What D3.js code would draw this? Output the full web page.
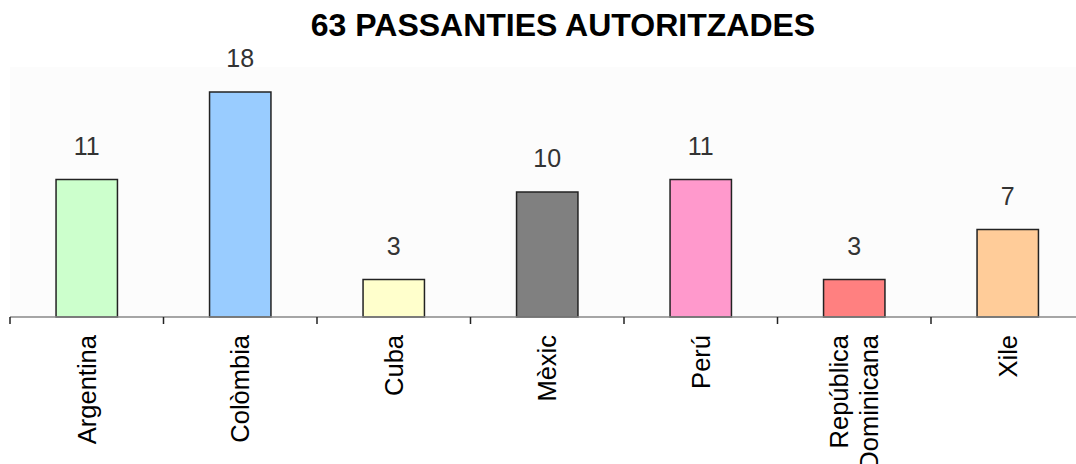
<!DOCTYPE html>
<html>
<head>
<meta charset="utf-8">
<script src="https://cdn.jsdelivr.net/npm/d3@7"></script>
<style>
  body { margin: 0; background: #fff; }
  text { font-family: "Liberation Sans", Arial, sans-serif; }
</style>
</head>
<body>
<script>
const countries = ["Argentina", "Colòmbia", "Cuba", "Mèxic", "Perú", "República Dominicana", "Xile"];
const values = [11, 18, 3, 10, 11, 3, 7];
const colors = ["#ccffcc", "#99ccff", "#ffffcc", "#808080", "#ff99cc", "#ff8080", "#ffcc99"];
const title = "63 PASSANTIES AUTORITZADES";

const width = 1076, height = 464;
const plotLeft = 10, plotRight = 1084.5, plotTop = 67, plotBottom = 317;

const svg = d3.select("body").append("svg")
  .attr("width", width).attr("height", height);

svg.append("rect")
  .attr("x", plotLeft).attr("y", plotTop)
  .attr("width", width - plotLeft).attr("height", plotBottom - plotTop)
  .attr("fill", "#fcfcfc");

const x = d3.scaleBand().domain(countries).range([plotLeft, plotRight]).padding(0);
const y = d3.scaleLinear().domain([0, 20]).range([plotBottom, plotTop]);
const barW = x.bandwidth() * 0.4;

const data = countries.map((c, i) => ({ c, v: values[i], col: colors[i] }));

svg.selectAll("rect.bar").data(data).enter().append("rect")
  .attr("class", "bar")
  .attr("x", d => x(d.c) + (x.bandwidth() - barW) / 2)
  .attr("y", d => y(d.v))
  .attr("width", barW)
  .attr("height", d => plotBottom - y(d.v))
  .attr("fill", d => d.col)
  .attr("stroke", "#222")
  .attr("stroke-width", 1.5);

svg.selectAll("text.val").data(data).enter().append("text")
  .attr("class", "val")
  .attr("x", d => x(d.c) + x.bandwidth() / 2)
  .attr("y", d => y(d.v) - 25)
  .attr("text-anchor", "middle")
  .attr("font-size", 25)
  .attr("fill", "#333")
  .text(d => d.v);

// axis line and ticks at band edges
svg.append("line")
  .attr("x1", plotLeft).attr("x2", width)
  .attr("y1", plotBottom).attr("y2", plotBottom)
  .attr("stroke", "#888").attr("stroke-width", 1.5);

svg.selectAll("line.tick").data(countries).enter().append("line")
  .attr("class", "tick")
  .attr("x1", d => x(d)).attr("x2", d => x(d))
  .attr("y1", plotBottom).attr("y2", plotBottom + 7)
  .attr("stroke", "#222").attr("stroke-width", 1.5);

// rotated category labels
const labels = svg.selectAll("g.lab").data(data).enter().append("g")
  .attr("class", "lab")
  .attr("transform", d => `translate(${x(d.c) + x.bandwidth() / 2},335) rotate(-90)`);

labels.each(function (d) {
  const words = d.c === "República Dominicana" ? ["República", "Dominicana"] : [d.c];
  const g = d3.select(this);
  words.forEach((w, i) => {
    g.append("text")
      .attr("x", 0)
      .attr("y", (i - (words.length - 1) / 2) * 30 + 9)
      .attr("text-anchor", "end")
      .attr("font-size", 25.5)
      .attr("fill", "#000")
      .text(w);
  });
});

svg.append("text")
  .attr("x", 563).attr("y", 36)
  .attr("text-anchor", "middle")
  .attr("font-size", 32)
  .attr("font-weight", "bold")
  .attr("fill", "#000")
  .text(title);
</script>
</body>
</html>
